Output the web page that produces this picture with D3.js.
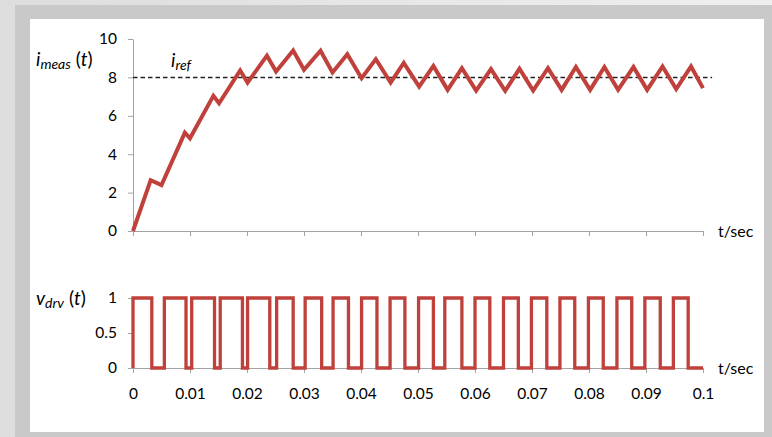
<!DOCTYPE html>
<html>
<head>
<meta charset="utf-8">
<script src="https://cdn.jsdelivr.net/npm/d3@7"></script>
<style>
  html, body { margin: 0; padding: 0; background: #dcdcdc; }
  svg { display: block; font-family: Lato, "Open Sans", sans-serif; }
</style>
</head>
<body>
<div id="chart"></div>
<script>
// Measured current i_meas(t): corner times (s) and values (A)
const currentT = [0, 0.0031, 0.0050, 0.0091, 0.0100, 0.0141, 0.0151, 0.0188, 0.0201, 0.0235,
  0.0251, 0.0281, 0.0300, 0.0329, 0.0350, 0.0376, 0.0401, 0.0426, 0.0452, 0.0475,
  0.0502, 0.0527, 0.0552, 0.0577, 0.0602, 0.0628, 0.0653, 0.0678, 0.0702, 0.0728,
  0.0752, 0.0777, 0.0802, 0.0827, 0.0851, 0.0878, 0.0902, 0.0929, 0.0953, 0.0979, 0.1];
const currentA = [0, 2.65, 2.39, 5.12, 4.83, 7.04, 6.65, 8.36, 7.73, 9.13,
  8.31, 9.40, 8.40, 9.39, 8.26, 9.21, 7.96, 8.95, 7.73, 8.76,
  7.52, 8.60, 7.35, 8.48, 7.31, 8.43, 7.30, 8.45, 7.31, 8.48,
  7.35, 8.54, 7.35, 8.54, 7.35, 8.54, 7.35, 8.57, 7.39, 8.57, 7.44];

// Reference current
const iRef = 8;
const refT = [0, 0.1016];

// Drive signal v_drv(t): edge times and level after each edge
const driveT = [0, 0, 0.0033, 0.0055, 0.0093, 0.0103, 0.0143, 0.0153, 0.0192, 0.0201, 0.0240,
  0.0252, 0.0281, 0.0302, 0.0331, 0.0351, 0.0378, 0.0401, 0.0428, 0.0451, 0.0477,
  0.0501, 0.0527, 0.0547, 0.0577, 0.0600, 0.0626, 0.0650, 0.0676, 0.0699, 0.0726,
  0.0749, 0.0775, 0.0799, 0.0825, 0.0849, 0.0875, 0.0898, 0.0925, 0.0948, 0.0974, 0.1];
const driveV = [0, 1, 0, 1, 0, 1, 0, 1, 0, 1, 0,
  1, 0, 1, 0, 1, 0, 1, 0, 1, 0,
  1, 0, 1, 0, 1, 0, 1, 0, 1, 0,
  1, 0, 1, 0, 1, 0, 1, 0, 1, 0, 0];

// Ticks
const timeTicks = [0, 0.01, 0.02, 0.03, 0.04, 0.05, 0.06, 0.07, 0.08, 0.09, 0.1];
const timeTickLabels = ["0", "0.01", "0.02", "0.03", "0.04", "0.05", "0.06", "0.07", "0.08", "0.09", "0.1"];
const currentTicks = [0, 2, 4, 6, 8, 10];
const driveTicks = [0, 0.5, 1];

const width = 772, height = 437;
const red = "#c0403c";
const axisGrey = "#a3a3a3";

const svg = d3.select("#chart").append("svg")
  .attr("width", width)
  .attr("height", height);

// Backdrop: light strip, grey frame, white panel
const grad = svg.append("defs").append("linearGradient")
  .attr("id", "bg").attr("x1", "0").attr("x2", "1");
grad.append("stop").attr("offset", "0").attr("stop-color", "#dddddd");
grad.append("stop").attr("offset", "1").attr("stop-color", "#eef0ee");
svg.append("rect").attr("width", width).attr("height", height).attr("fill", "url(#bg)");
svg.append("rect").attr("x", 15).attr("y", 5).attr("width", width - 15).attr("height", height - 5)
  .attr("fill", "#c9c9c9");
svg.append("rect").attr("x", 30).attr("y", 19).attr("width", 734).attr("height", 413)
  .attr("fill", "#ffffff");

// Scales
const x = d3.scaleLinear().domain([0, 0.1]).range([133, 703]);
const yTop = d3.scaleLinear().domain([0, 10]).range([231, 39]);
const yBot = d3.scaleLinear().domain([0, 1]).range([368, 298]);

function styleAxis(g) {
  g.selectAll("path, line").attr("stroke", axisGrey);
  g.selectAll("text").attr("fill", "#000").style("font-size", "15.5px")
    .style("font-family", "Lato, 'Open Sans', sans-serif");
}

// ---- Top chart ----
svg.append("g")
  .attr("transform", `translate(0,${yTop(0)})`)
  .call(d3.axisBottom(x).tickValues(timeTicks).tickSize(5).tickSizeOuter(0).tickFormat(""))
  .call(styleAxis);

svg.append("g")
  .attr("transform", `translate(${x(0)},0)`)
  .call(d3.axisLeft(yTop).tickValues(currentTicks).tickSize(5).tickSizeOuter(0).tickPadding(11))
  .call(styleAxis);

// i_ref dashed line
svg.append("path")
  .datum(refT)
  .attr("d", d3.line().x(d => x(d)).y(() => yTop(iRef)))
  .attr("fill", "none")
  .attr("stroke", "#222")
  .attr("stroke-width", 1.5)
  .attr("stroke-dasharray", "4.5,3");

// current waveform
svg.append("path")
  .datum(d3.zip(currentT, currentA))
  .attr("d", d3.line().x(d => x(d[0])).y(d => yTop(d[1])))
  .attr("fill", "none")
  .attr("stroke", red)
  .attr("stroke-width", 4)
  .attr("stroke-linejoin", "miter");

// ---- Bottom chart ----
svg.append("g")
  .attr("transform", `translate(0,${yBot(0)})`)
  .call(d3.axisBottom(x).tickValues(timeTicks).tickSize(5).tickSizeOuter(0).tickPadding(15)
    .tickFormat((d, i) => timeTickLabels[i]))
  .call(styleAxis);

svg.append("g")
  .attr("transform", `translate(${x(0)},0)`)
  .call(d3.axisLeft(yBot).tickValues(driveTicks).tickSize(5).tickSizeOuter(0).tickPadding(11)
    .tickFormat(d3.format("")))
  .call(styleAxis);

svg.append("path")
  .datum(d3.zip(driveT, driveV))
  .attr("d", d3.line().curve(d3.curveStepAfter).x(d => x(d[0])).y(d => yBot(d[1])))
  .attr("fill", "none")
  .attr("stroke", red)
  .attr("stroke-width", 3.3);

// ---- Labels ----
function sublabel(xp, yp, main, sub, tail) {
  const t = svg.append("text").attr("x", xp).attr("y", yp)
    .attr("fill", "#000").style("font-size", "19px");
  t.append("tspan").style("font-style", "italic").text(main);
  t.append("tspan").attr("dy", 3).style("font-style", "italic").style("font-size", "14px").text(sub);
  if (tail) {
    t.append("tspan").attr("dy", -3).text(" (");
    t.append("tspan").style("font-style", "italic").text("t");
    t.append("tspan").text(")");
  }
}
sublabel(36, 66, "i", "meas", true);
sublabel(171, 67, "i", "ref", false);
sublabel(36, 305, "v", "drv", true);

svg.append("text").attr("x", 718).attr("y", 237).attr("fill", "#000")
  .style("font-size", "16px").text("t/sec");
svg.append("text").attr("x", 718).attr("y", 374).attr("fill", "#000")
  .style("font-size", "16px").text("t/sec");
</script>
</body>
</html>
